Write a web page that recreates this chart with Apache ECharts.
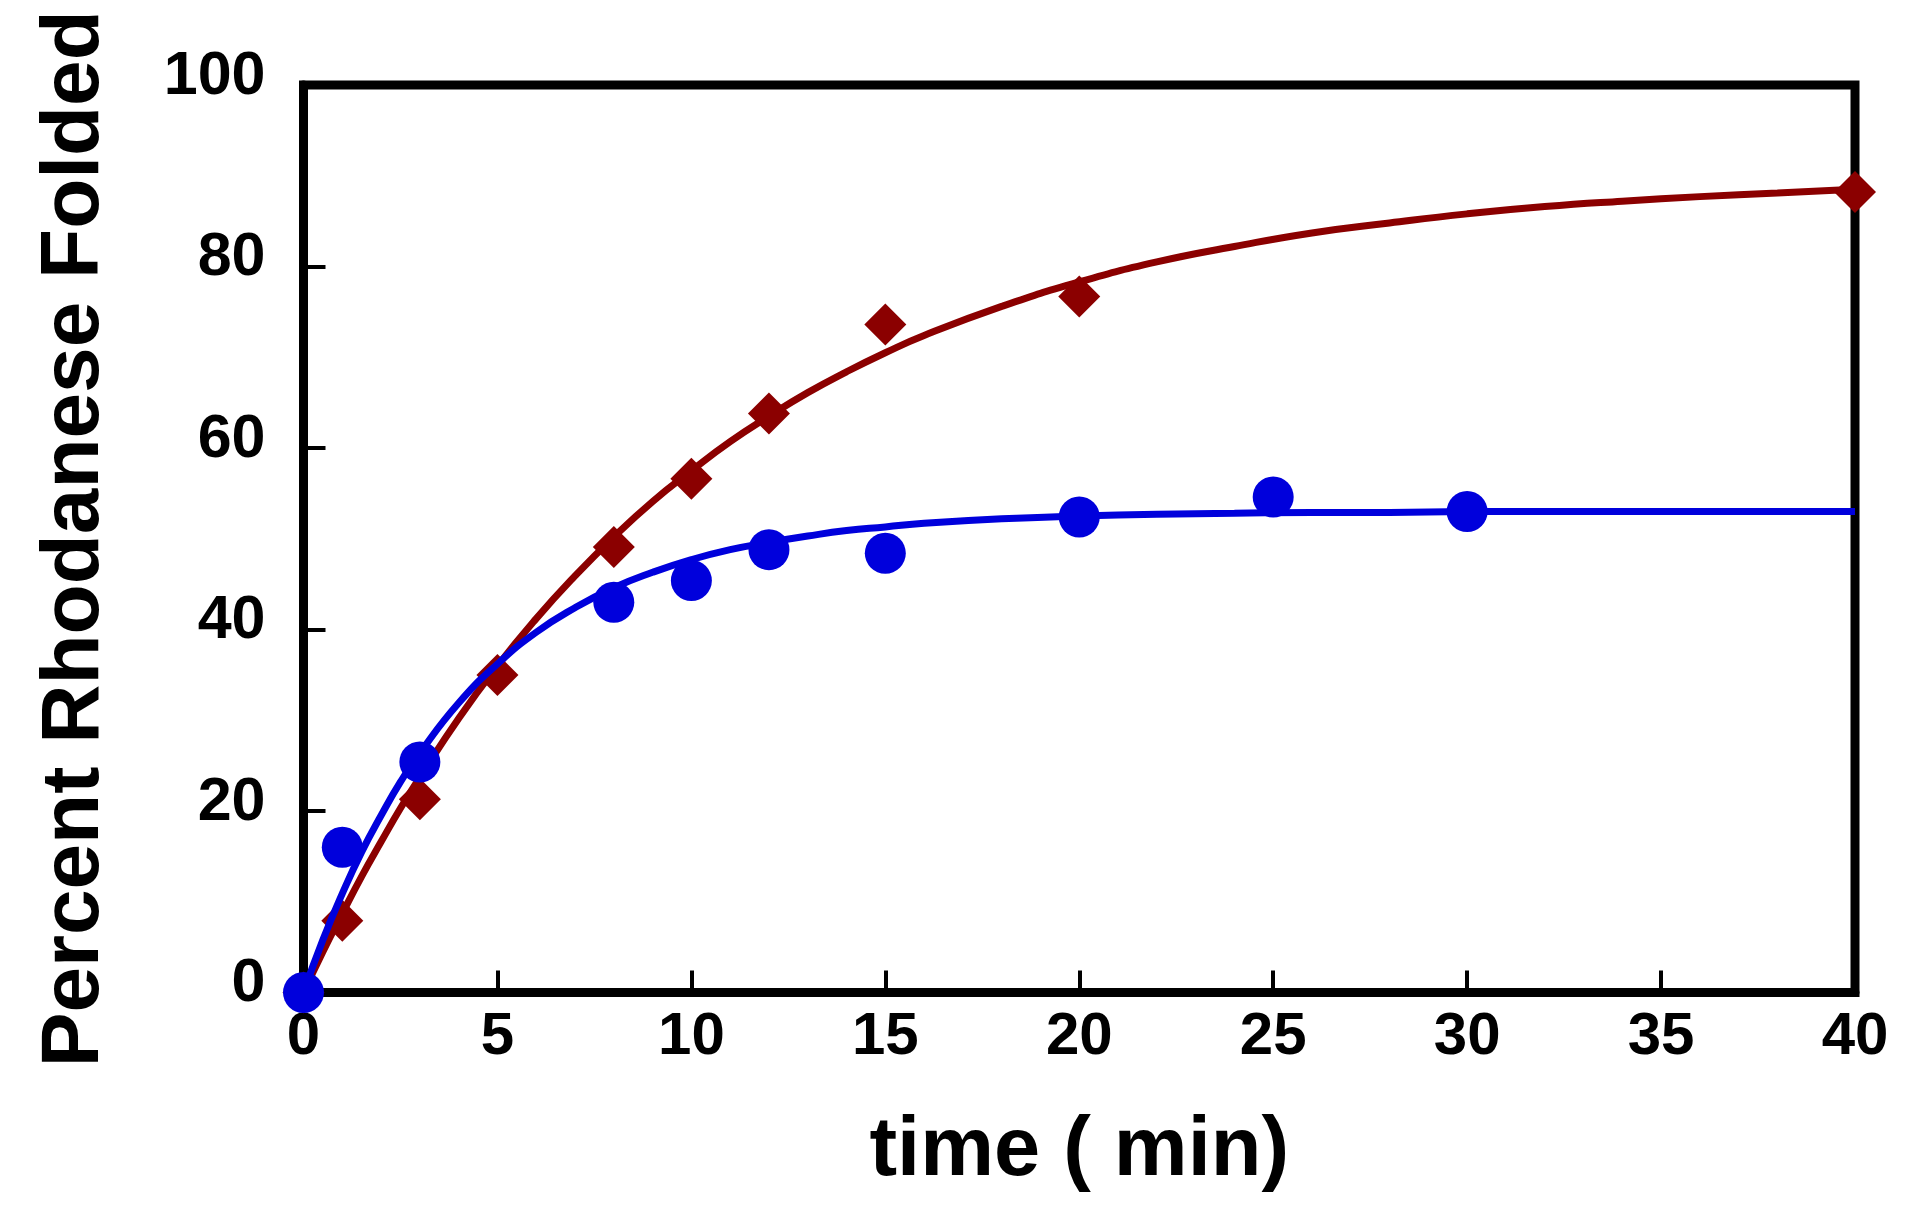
<!DOCTYPE html>
<html>
<head>
<meta charset="utf-8">
<script src="https://cdn.jsdelivr.net/npm/echarts@6/dist/echarts.min.js"></script>
<style>
html,body{margin:0;padding:0;background:#fff;}
#chart{width:1920px;height:1206px;}
</style>
</head>
<body>
<div id="chart"></div>
<script>
// Measured points (time in min, percent folded)
const redTimes   = [0, 1, 3, 5, 8, 10, 12, 15, 20, 40];
const redValues  = [0, 7.9, 21.3, 35.0, 49.1, 56.6, 63.8, 73.6, 76.7, 88.2];
const blueTimes  = [0, 1, 3, 8, 10, 12, 15, 20, 25, 30];
const blueValues = [0, 16.0, 25.4, 43.0, 45.4, 48.8, 48.4, 52.4, 54.6, 53.0];

// Fitted curves
const curveTimes = [0, 0.5, 1, 1.5, 2, 2.5, 3, 4, 5, 6, 7, 8, 9, 10, 11, 12, 13, 14, 15, 16, 18, 20, 22, 24, 26, 28, 30, 32, 34, 36, 38, 40];
const redCurve   = [0, 4.5, 8.7, 12.8, 16.6, 20.3, 23.7, 30.2, 36.0, 41.2, 45.9, 50.2, 54.1, 57.5, 60.7, 63.5, 66.1, 68.4, 70.5, 72.4, 75.6, 78.3, 80.5, 82.2, 83.7, 84.8, 85.8, 86.6, 87.2, 87.7, 88.1, 88.5];
const blueCurve  = [0, 5.8, 10.9, 15.5, 19.5, 23.2, 26.4, 31.9, 36.2, 39.7, 42.4, 44.6, 46.3, 47.7, 48.8, 49.6, 50.3, 50.9, 51.3, 51.7, 52.2, 52.5, 52.7, 52.8, 52.9, 52.9, 53.0, 53.0, 53.0, 53.0, 53.0, 53.0];

const xTicks = [0, 5, 10, 15, 20, 25, 30, 35, 40];
const yTicks = [0, 20, 40, 60, 80, 100];

const zip = (a, b) => a.map((v, i) => [v, b[i]]);

const RED = '#8b0000';
const BLUE = '#0000dc';
const FONT = '"Liberation Sans", Arial, Helvetica, sans-serif';

const chart = echarts.init(document.getElementById('chart'), null, {renderer: 'canvas'});
chart.setOption({
  backgroundColor: '#ffffff',
  animation: false,
  grid: {
    left: 303.5, right: 65, top: 85, bottom: 213.5,
    show: true, borderColor: '#000', borderWidth: 9, backgroundColor: 'transparent'
  },
  xAxis: {
    type: 'value', min: xTicks[0], max: xTicks[xTicks.length - 1], interval: 5,
    name: 'time ( min)', nameLocation: 'middle', nameGap: 118,
    nameTextStyle: {fontFamily: FONT, fontWeight: 'bold', fontSize: 83, color: '#000'},
    axisLine: {show: true, lineStyle: {color: '#000', width: 9}},
    axisTick: {show: true, inside: true, length: 22, lineStyle: {color: '#000', width: 4}},
    axisLabel: {show: true, margin: 15, fontFamily: FONT, fontWeight: 'bold', fontSize: 60, color: '#000',
      formatter: v => xTicks.includes(v) ? String(v) : ''},
    splitLine: {show: false}
  },
  yAxis: {
    type: 'value', min: yTicks[0], max: yTicks[yTicks.length - 1], interval: 20,
    name: 'Percent Rhodanese Folded', nameLocation: 'middle', nameGap: 187,
    nameTextStyle: {fontFamily: FONT, fontWeight: 'bold', fontSize: 82, color: '#000'},
    axisLine: {show: true, lineStyle: {color: '#000', width: 9}},
    axisTick: {show: true, inside: true, length: 22, lineStyle: {color: '#000', width: 4}},
    axisLabel: {show: true, margin: 38, fontFamily: FONT, fontWeight: 'bold', fontSize: 61, color: '#000',
      verticalAlign: 'bottom', lineHeight: 16,
      formatter: v => yTicks.includes(v) ? String(v) : ''},
    splitLine: {show: false}
  },
  series: [
    {
      type: 'line', data: zip(curveTimes, redCurve), smooth: true, showSymbol: false,
      lineStyle: {color: RED, width: 7}, z: 3, clip: false
    },
    {
      type: 'scatter', data: zip(redTimes, redValues), symbol: 'diamond', symbolSize: [42, 42],
      itemStyle: {color: RED, opacity: 1}, z: 4, clip: false
    },
    {
      type: 'line', data: zip(curveTimes, blueCurve), smooth: true, showSymbol: false,
      lineStyle: {color: BLUE, width: 7}, z: 5, clip: false
    },
    {
      type: 'scatter', data: zip(blueTimes, blueValues), symbol: 'circle', symbolSize: 41,
      itemStyle: {color: BLUE, opacity: 1}, z: 6, clip: false
    }
  ]
});
</script>
</body>
</html>
